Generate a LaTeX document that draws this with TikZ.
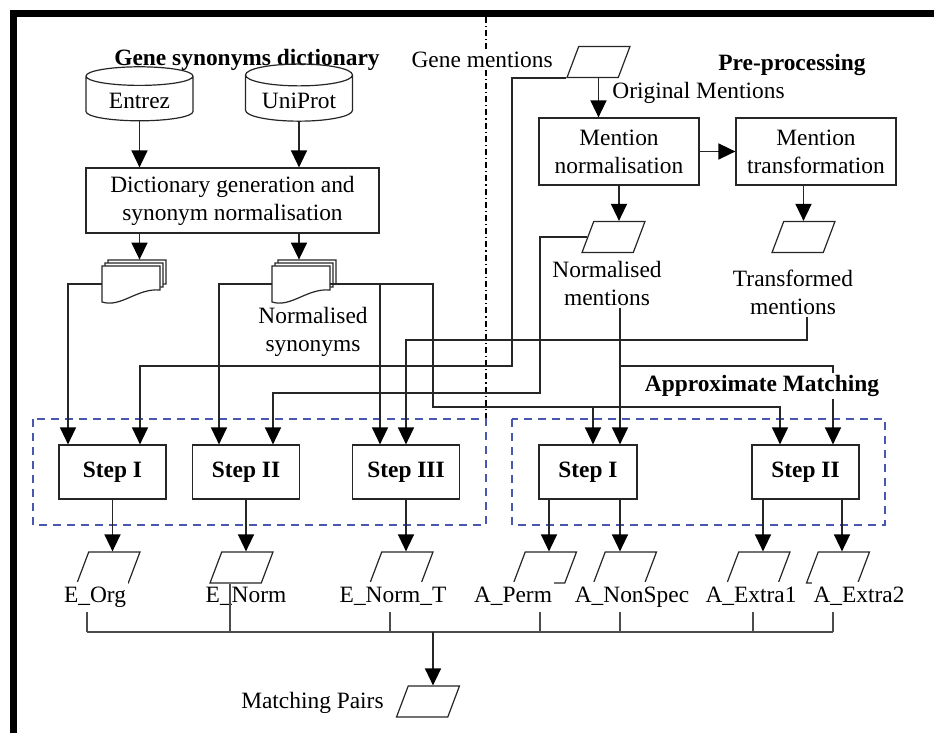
\documentclass[tikz,border=0pt]{standalone}
\usepackage{fontspec}
\setmainfont{Liberation Serif}
\usetikzlibrary{arrows.meta,shapes.geometric,calc}
\definecolor{grpblue}{RGB}{72,88,176}
\newcommand{\diafont}{\fontsize{11.7}{14}\selectfont}
% stack of three document pages round a named node
\newcommand{\docstack}[2]{%
  \node[docnode] (#1) at (#2) {};
  \foreach \k in {2,1,0}{%
    \draw[docline] ($(#1)+(-29+3*\k,-18-3*\k)$) -- ($(#1)+(29+3*\k,-18-3*\k)$)
      -- ($(#1)+(29+3*\k,6-3*\k)$)
      .. controls ($(#1)+(6+3*\k,4-3*\k)$) and ($(#1)+(-10+3*\k,24-3*\k)$)
      .. ($(#1)+(-29+3*\k,18-3*\k)$) -- cycle;
  }
  \coordinate (#1-top) at ($(#1.north)+(0,-6)$);
}
\tikzset{
  every node/.style={font=\diafont},
  title/.style={font=\diafont\bfseries, inner sep=1pt},
  lab/.style={align=center, fill=white, inner sep=1pt},
  outlab/.style={fill=white, inner xsep=1pt, inner ysep=2pt, text height=8pt, text depth=2.5pt},
  proc/.style={draw=black!85, line width=0.6pt, align=center, minimum width=80pt, minimum height=33.5pt, inner sep=1pt},
  stepbox/.style={draw=black!85, line width=0.6pt, font=\diafont\bfseries, minimum width=53.5pt, minimum height=27pt},
  dbase/.style={cylinder, shape border rotate=90, aspect=0.25, draw=black!85, line width=0.6pt, minimum width=53.5pt, minimum height=27pt},
  para/.style={trapezium, trapezium left angle=64, trapezium right angle=116, trapezium stretches=true, draw=black!85, line width=0.6pt, fill=white, minimum width=31.5pt, minimum height=15.5pt, inner sep=0pt, execute at begin node={\phantom{m}}},
  docnode/.style={minimum width=29pt, minimum height=18pt, inner sep=0pt},
  docline/.style={draw=black!85, line width=0.6pt, fill=white},
  conn/.style={draw=black!70, line width=0.7pt},
  arr/.style={draw=black!85, line width=0.75pt, -{Triangle[length=8.5pt,width=8pt,color=black]}},
  group/.style={draw=grpblue, line width=0.9pt, dash pattern=on 4pt off 3pt},
  sep/.style={draw=black, line width=0.8pt, dash pattern=on 3pt off 1.5pt on 0.6pt off 1.5pt}
}
\begin{document}
\begin{tikzpicture}[x=0.5pt,y=-0.5pt]
\useasboundingbox (0,0) rectangle (934,733);
% frame
\fill (10,10) rectangle (934,17);
\fill (10,10) rectangle (17,733);
\draw[sep] (486,17) -- (486,419);
\draw[group] (33,419) rectangle (486,525);
\draw[group] (512,419) rectangle (885,525);

% gene synonyms dictionary
\node[title] (gsd) at (247,60) {Gene synonyms dictionary};
\node[dbase] (entrez) at (139.5,101) {Entrez};
\node[dbase] (uniprot) at (299,101) {UniProt};
\node[proc, minimum width=146.5pt, minimum height=32.5pt] (dict) at (232.5,200.5) {Dictionary generation and\\synonym normalisation};
\draw[arr] (entrez.south) -- (entrez.south |- dict.north);
\draw[arr] (uniprot.south) -- (uniprot.south |- dict.north);
\docstack{doc1}{131,284}
\docstack{doc2}{301,284}
\draw[arr] (entrez |- dict.south) -- (entrez |- doc1-top);
\draw[arr] (uniprot |- dict.south) -- (uniprot |- doc2-top);
\node[lab] (nslab) at (313,332) {Normalised\\synonyms};

% pre-processing
\node[title] (pre) at (792,65) {Pre-processing};
\node[para] (gm) at (598.5,62) {};
\node[lab, anchor=east] (gmlab) at (555,60) {Gene mentions};
\node[lab, anchor=west] (omlab) at (610,93) {Original Mentions};
\node[proc] (mnorm) at (619,151.5) {Mention\\normalisation};
\node[proc] (mtrans) at (816,151.5) {Mention\\transformation};
\draw[arr] (gm.south) -- (gm.south |- mnorm.north);
\draw[arr] (mnorm.east) -- (mtrans.west);
\node[para] (nm) at (613.5,237) {};
\node[para] (tm) at (803.5,237) {};
\draw[arr] (mnorm.south) -- (mnorm.south |- nm.north);
\draw[arr] (tm.north |- mtrans.south) -- (tm.north);
\node[lab] (nmlab) at (607,283.5) {Normalised\\mentions};
\node[lab] (tmlab) at (793,292.5) {Transformed\\mentions};

% matching steps
\node[stepbox] (s1) at (112.5,472) {Step I};
\node[stepbox] (s2) at (246,472) {Step II};
\node[stepbox] (s3) at (406,472) {Step III};
\node[stepbox, minimum width=49pt] (a1) at (588,472) {Step I};
\node[stepbox] (a2) at (805.5,472) {Step II};
\coordinate (s1in1) at ($(s1.north)+(-44.5,0)$);
\coordinate (s1in2) at ($(s1.north)+(27.5,0)$);
\coordinate (s2in1) at ($(s2.north)+(-27,0)$);
\coordinate (s2in2) at ($(s2.north)+(27,0)$);
\coordinate (s3in1) at ($(s3.north)+(-26,0)$);
\coordinate (s3in2) at (s3.north);
\coordinate (a1in1) at ($(a1.north)+(5,0)$);
\coordinate (a1in2) at ($(a1.north)+(32,0)$);
\coordinate (a2in1) at ($(a2.north)+(-25.5,0)$);
\coordinate (a2in2) at ($(a2.north)+(27.5,0)$);
\coordinate (gmbend) at (512,366);
\coordinate (nmbend) at (540,393);
\coordinate (tmbend) at (807,340);
\coordinate (docbend) at (433,407);

\draw[arr] (doc1.west) -| (s1in1);
\draw[arr] (doc2.west) -| (s2in1);
\draw[arr] (doc2.east) -| (s3in1);
\draw[arr] (doc2.east) -| (docbend) -| (a2in1);
\draw[arr] (a1in1 |- docbend) -- (a1in1);
\draw[arr] (gm.bottom left corner) -| (gmbend) -| (s1in2);
\draw[arr] (nm.west) -| (nmbend) -| (s2in2);
\draw[arr] (tmbend |- tmlab.south) -- (tmbend) -| (s3in2);
\draw[arr] (nmlab.south -| a1in2) -- (a1in2);
\draw[arr] (a1in2 |- gmbend) -| (a2in2);
\node[title, fill=white] (amt) at (762,386) {Approximate Matching};

% outputs
\node[para] (eorg) at (108.5,567.5) {};
\node[para] (enorm) at (241.5,567.5) {};
\node[para] (enormt) at (401.5,567.5) {};
\node[para] (aperm) at (545,567.5) {};
\node[para] (anon) at (625,567.5) {};
\node[para] (aext1) at (758.5,567.5) {};
\node[para] (aext2) at (838,567.5) {};
\coordinate (a1out1) at ($(a1.south)+(-39,0)$);
\coordinate (a1out2) at ($(a1.south)+(32,0)$);
\coordinate (a2out1) at ($(a2.south)+(-42.5,0)$);
\coordinate (a2out2) at ($(a2.south)+(36.5,0)$);
\draw[arr] (s1.south) -- (s1.south |- eorg.north);
\draw[arr] (s2.south) -- (s2.south |- enorm.north);
\draw[arr] (s3.south) -- (s3.south |- enormt.north);
\draw[arr] (a1out1) -- (a1out1 |- aperm.north);
\draw[arr] (a1out2) -- (a1out2 |- anon.north);
\draw[arr] (a2out1) -- (a2out1 |- aext1.north);
\draw[arr] (a2out2) -- (a2out2 |- aext2.north);
\node[outlab] (lbl-eorg) at (95,597) {E\_Org};
\node[outlab, fill=none] (lbl-enorm) at (246,597) {E\_Norm};
\node[outlab] (lbl-enormt) at (393,597) {E\_Norm\_T};
\node[outlab] (lbl-aperm) at (513,597) {A\_Perm};
\node[outlab] (lbl-anon) at (632,597) {A\_NonSpec};
\node[outlab] (lbl-aext1) at (751,597) {A\_Extra1};
\node[outlab] (lbl-aext2) at (859,597) {A\_Extra2};

% collecting the results
\coordinate (bus) at (433,632);
\foreach \n/\dx in {eorg/-21.5,enormt/-11.5,aperm/-5,anon/-5,aext1/-5.5,aext2/-5}
  \draw[conn] ($(lbl-\n.south -| \n.south)+(\dx,0)$) -- ($(bus -| \n.south)+(\dx,0)$);
\draw[conn] ($(enorm.south)+(-11.5,0)$) -- ($(bus -| enorm.south)+(-11.5,0)$);
\draw[conn] ($(bus -| eorg.south)+(-21.5,0)$) -- ($(bus -| aext2.south)+(-5,0)$);
\node[para] (mp) at (428,701.5) {};
\node[lab, anchor=east] (mplab) at (386,703) {Matching Pairs};
\draw[arr] (bus) -- (bus |- mp.north);
\end{tikzpicture}
\end{document}
